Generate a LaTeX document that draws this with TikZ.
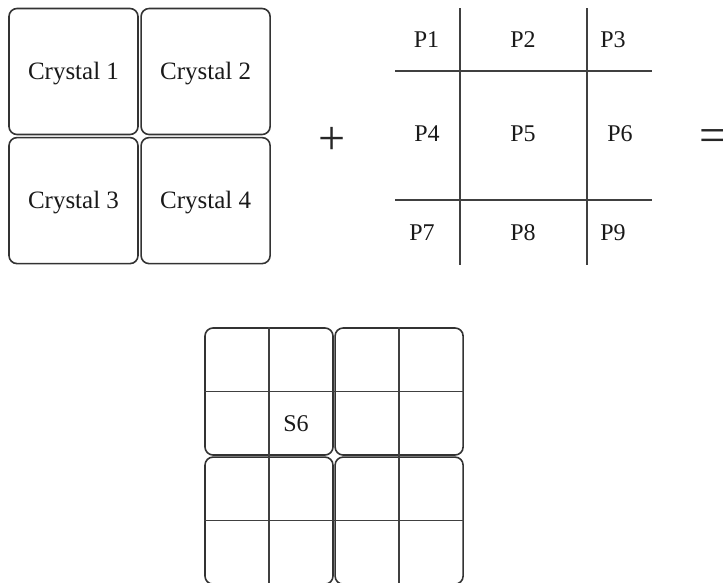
\documentclass[tikz,border=0pt]{standalone}
\usepackage{fontspec}
\setmainfont{Liberation Serif}
\usetikzlibrary{positioning}
\tikzstyle{crystal}=[rectangle,rounded corners=8pt,draw=black!80,line width=1.6pt,minimum width=129pt,minimum height=126pt,inner sep=0pt,text height=16pt,text depth=0pt]
\tikzstyle{cell}=[font=\fontsize{25}{29}\selectfont,text=black!90]
\tikzstyle{pix}=[font=\fontsize{24}{28}\selectfont,text=black!90,anchor=base,inner sep=0pt]
\tikzstyle{sign}=[font=\fontsize{48}{52}\selectfont,text=black!85]
\tikzstyle{gridline}=[draw=black!75,line width=1.6pt]

\begin{document}
\begin{tikzpicture}[x=1pt,y=-1pt]
\useasboundingbox (0,0) rectangle (723,582);
% detector crystals
\node(c1)[crystal,cell] at (73.5,71.5){Crystal 1};
\node(c2)[crystal,cell,right=1.5pt of c1]{Crystal 2};
\node(c3)[crystal,cell,below=1.5pt of c1]{Crystal 3};
\node(c4)[crystal,cell,below=1.5pt of c2]{Crystal 4};

\node(plus)[sign] at (332,141){+};

% pixel grid
\coordinate(v1t) at (460,8);   \coordinate(v1b) at (460,265);
\coordinate(v2t) at (587,8);   \coordinate(v2b) at (587,265);
\coordinate(h1l) at (395,71);  \coordinate(h1r) at (652,71);
\coordinate(h2l) at (395,200); \coordinate(h2r) at (652,200);
\draw[gridline](v1t)--(v1b);
\draw[gridline](v2t)--(v2b);
\draw[gridline](h1l)--(h1r);
\draw[gridline](h2l)--(h2r);
\node(p1)[pix] at (426.5,47){P1};
\node(p2)[pix] at (523,47){P2};
\node(p3)[pix] at (613,47){P3};
\node(p4)[pix] at (427,141){P4};
\node(p5)[pix] at (523,141){P5};
\node(p6)[pix] at (620,141){P6};
\node(p7)[pix] at (422,240){P7};
\node(p8)[pix] at (523,240){P8};
\node(p9)[pix] at (613,240){P9};

\node(equal)[sign] at (713,141){=};

% result: crystals split into sub-pixels
\node(s1)[crystal,minimum width=128pt,minimum height=127pt] at (269,391.5){};
\node(s2)[crystal,minimum width=128pt,minimum height=127pt,right=0.5pt of s1]{};
\node(s3)[crystal,minimum width=128pt,minimum height=127pt,below=0.5pt of s1]{};
\node(s4)[crystal,minimum width=128pt,minimum height=127pt,below=0.5pt of s2]{};
\draw[gridline](s1.north)--(s3.south);
\draw[gridline](s2.north)--(s4.south);
\draw[gridline](s1.west)--(s2.east);
\draw[gridline](s3.west)--(s4.east);
\node(s6)[pix] at (296,431){S6};
\end{tikzpicture}
\end{document}
